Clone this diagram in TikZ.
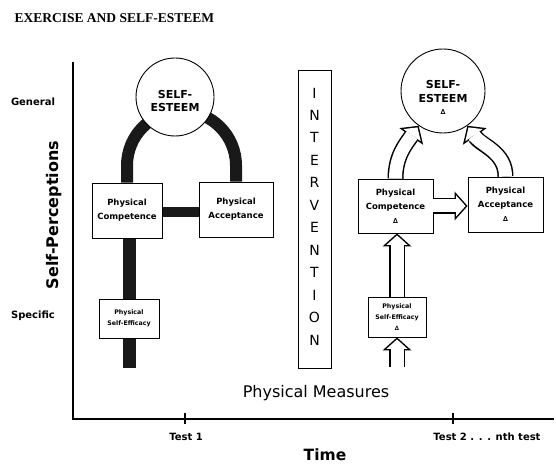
\documentclass[tikz,border=0pt]{standalone}
\usepackage{fontspec}
\setmainfont{DejaVu Sans}
\newfontfamily\titlefont{Liberation Serif}
\usetikzlibrary{arrows.meta}
\newcommand\fs[2]{\fontsize{#1}{#2}\selectfont}
\begin{document}
\begin{tikzpicture}[x=1pt,y=1pt,
  box/.style={draw, line width=0.9pt, fill=white, align=center, inner sep=0pt, font=\bfseries\fs{8.5}{14}},
  smallbox/.style={box, font=\bfseries\fs{6.3}{11}},
  esteem/.style={circle, draw, line width=0.9pt, fill=white, inner sep=0pt},
  esteemtext/.style={align=center, font=\bfseries\fs{11}{14}},
  thickbar/.style={line width=12pt, draw=black!90},
  hollowout/.style={draw=black, line width=16pt, -{Triangle[length=13pt,width=29pt,line width=0pt]}},
  hollowin/.style={draw=white, line width=13pt, shorten >=2pt, -{Triangle[length=9.5pt,width=21.2pt,line width=0pt]}},
  axislbl/.style={font=\bfseries\fs{10}{12}},
  axisline/.style={line width=1.2pt},
  letter/.style={font=\fs{14}{14}, inner sep=0pt}
]
\useasboundingbox (0,0) rectangle (556,465);
\newcommand\harrow[1]{\draw[hollowout] #1; \draw[hollowin] #1;}

% title
\node[anchor=west, font=\titlefont\bfseries\fs{13.5}{15}] (title) at (11,447) {EXERCISE AND SELF-ESTEEM};

% axes
\coordinate (origin) at (73,46);
\coordinate (ytop) at (73,403);
\coordinate (xend) at (554,46);
\draw[axisline] (ytop) -- (origin) -- (xend);
\coordinate (t1) at (185,46);
\coordinate (t2) at (453,46);
\draw[axisline] ([yshift=6pt]t1) -- ([yshift=-5pt]t1);
\draw[axisline] ([yshift=6pt]t2) -- ([yshift=-5pt]t2);
\node[axislbl] (test1) at (186,28) {Test 1};
\node[axislbl] (test2) at (487,28) {Test 2 . . . nth test};
\node[font=\bfseries\fs{15.5}{18}] (time) at (325,10) {Time};
\node[font=\fs{16}{18}] (pm) at (316,72) {Physical Measures};
\node[axislbl] (general) at (33,363) {General};
\node[axislbl] (specific) at (33,149) {Specific};
\node[rotate=90, font=\bfseries\fs{16}{18}] (sp) at (54,250) {Self-Perceptions};

% ---------- left model (Test 1) ----------
\node[box, minimum width=70pt, minimum height=55pt] (lc) at (127,254.5) {Physical\\Competence};
\node[box, minimum width=74pt, minimum height=55pt] (la) at (236,255.5) {Physical\\Acceptance};
\node[smallbox, minimum width=60pt, minimum height=39pt] (ls) at (129,146.5) {Physical\\Self-Efficacy};
\coordinate (lbot) at (129,97);
\draw[thickbar] (lc.north) -- ++(0,17) arc[start angle=180, end angle=0, radius=54.5] -- (la.north);
\draw[thickbar, line width=10pt] ([yshift=-2pt]lc.east) -- ([yshift=-2pt]la.west |- lc.east);
\draw[thickbar, line width=13pt] (lc.south -| lbot) -- (lbot);
\node[esteem, minimum size=78pt] (le) at (175,368) {};
\node[esteemtext, font=\bfseries\fs{11}{13}] (letext) at (175,364) {SELF-\\ESTEEM};
\node[box, minimum width=70pt, minimum height=55pt] (lc2) at (lc) {Physical\\Competence};
\node[box, minimum width=74pt, minimum height=55pt] (la2) at (la) {Physical\\Acceptance};
\node[smallbox, minimum width=60pt, minimum height=39pt] (ls2) at (ls) {Physical\\Self-Efficacy};

% ---------- intervention ----------
\node[draw, line width=0.9pt, minimum width=33pt, minimum height=298pt] (ivbox) at (314.5,246) {};
\foreach \l [count=\i] in {I,N,T,E,R,V,E,N,T,I,O,N} {
  \node[letter] (iv\i) at (314.5,{372-22.45*(\i-1)}) {\l};
}

% ---------- right model (Test 2 ... nth test) ----------
\node[esteem, minimum size=84pt] (re) at (443,374) {};
\node[esteemtext] (retext) at (443,368) {SELF-\\ESTEEM\\[-2pt]{\fs{7}{8}∆}};
\node[box, minimum width=75pt, minimum height=54pt] (rc) at (395.5,259) {Physical\\Competence\\{\fs{7}{8}∆}};
\node[box, minimum width=75pt, minimum height=55pt] (ra) at (505.5,260.5) {Physical\\Acceptance\\{\fs{7}{8}∆}};
\node[smallbox, minimum width=58pt, minimum height=40pt] (rs) at (397,148) {Physical\\Self-Efficacy\\{\fs{6}{8}∆}};
\coordinate (rbot) at (397,98);

\harrow{(rc.north) to[out=90,in=235] (re.235)}
\harrow{(ra.north) to[out=90,in=305] (re.305)}
\harrow{(rc.east) -- (ra.west |- rc.east)}
\harrow{(rs.north) -- (rs.north |- rc.south)}
\harrow{(rbot) -- (rs.south)}
\end{tikzpicture}
\end{document}
